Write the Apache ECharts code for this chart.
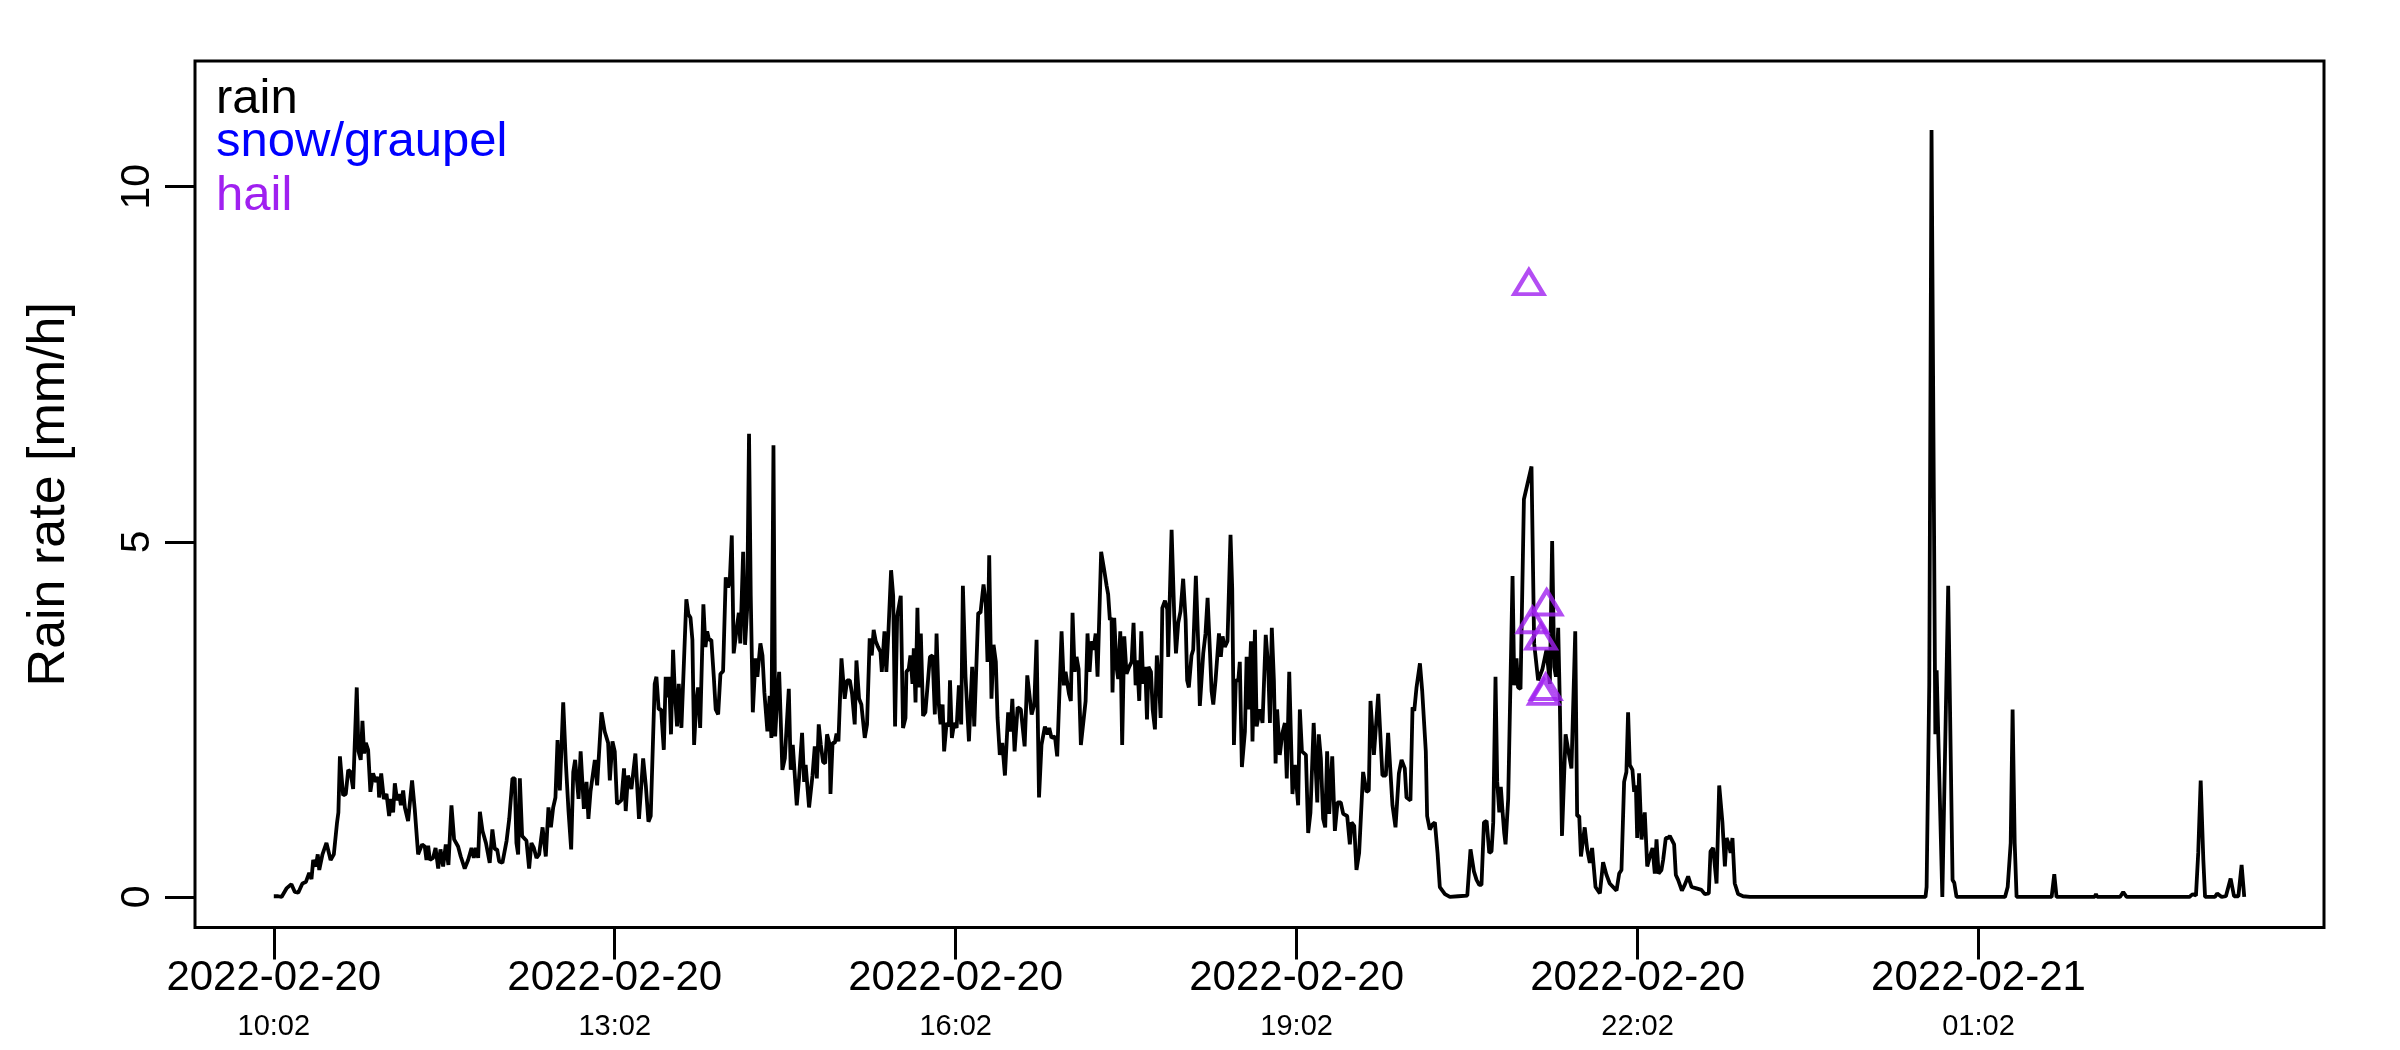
<!DOCTYPE html>
<html>
<head>
<meta charset="utf-8">
<script src="https://cdn.jsdelivr.net/npm/echarts@6/dist/echarts.min.js"></script>
<style>
html,body{margin:0;padding:0;background:#fff;}
#chart{width:2400px;height:1050px;}
</style>
</head>
<body>
<div id="chart"></div>
<script>
// minutes after 2022-02-20 10:02
const rainMinutes = [
0,2.3,4.1,6.7,9.3,11.1,12.9,15.1,16.9,18.7,
19.9,20.8,22.2,23.2,24,25.7,27.8,30,31.7,33.4,
34.1,34.9,36.6,38,39.3,40.5,41.9,43.8,44.7,45.9,
46.8,47.7,48.6,49.8,51,52.4,53.9,55.1,55.6,56.7,
58.1,59.5,60.9,61.8,63,63.9,65.1,66.2,67.1,68.3,
69.2,70.9,73,74.4,76.2,78.3,79.7,80.6,81.5,82.4,
84.1,85.4,86.8,88,89.4,90.8,92.2,93.8,95.2,97.3,
98.7,100.8,102.6,104.4,105.6,106.7,107.9,108.8,110.2,112,
114,115.4,116.7,117.9,119,120.7,122.9,124.3,126,127.2,
128.1,129,129.9,131.1,133.4,134.8,136,137.3,138.7,140.1,
141.9,143.6,145,146.3,147.5,148.7,149.8,151,152.8,154.2,
155.6,157,158.1,159.1,160.9,162,163.7,165.1,166.1,167.2,
169.5,170.7,173,174.7,176.5,177.4,178.8,180,181.2,183.5,
184.9,185.8,187,188.8,190.9,192.8,195,196.4,197.8,199,
201.1,202,203.2,204.5,205.9,206.9,207.8,208.7,209.7,210.8,
211.7,212.9,213.8,215.2,217.8,218.9,220,221,221.9,223.1,
224,225.1,226.8,227.9,228.8,229.8,231,232.3,233.3,234.6,
235.8,237.2,238.6,239.8,240.7,241.8,242.8,244.2,245.5,246.3,
247.8,248.8,249.9,250.9,251.8,252.9,254.3,255.3,256.9,258,
259,260.6,261.8,262.7,263.8,264.7,265.7,266.8,268.5,269.8,
270.8,271.9,272.9,274,276.1,277.3,278.9,280,280.8,282.6,
284.4,285.6,286.7,287.7,288.8,290,291.1,292.1,293.5,293.9,
295,296.2,297.1,298.1,299.7,301.4,302.7,304.1,305.3,306.7,
307.6,309,310.2,312,313.2,314.6,315.7,316.7,317.8,319,
320.3,321,322.4,323.4,324.5,325.9,327,328,329.1,331,
332.2,333.5,334,335.2,336.1,337.2,337.9,338.8,339.8,340.7,
341.6,342.8,344,346.4,347.8,349,349.9,351.1,352,353.1,
353.9,355.2,356.4,357,358,359.2,360.5,361.7,362.9,363.8,
365.2,367,368.7,369.8,371.9,373.1,374.7,375.9,376.8,377.7,
378.9,380,381.2,382.1,383.3,384.6,386,387.7,389,389.9,
391.1,392.7,394.4,396.4,397.8,400.1,401.5,402.7,404,405.3,
407.1,408.5,409.4,410.6,412.4,413.6,415.9,417.1,418,419.8,
420.8,421.7,422.8,423.8,424.9,426.1,428.6,429.6,430.7,431.7,
432.8,433.9,434.9,436.8,438.3,439.7,440.5,441.4,442.3,442.8,
443.7,444.9,445.8,446.9,447.9,449,450.2,451.6,452.9,453.9,
455,455.8,456.9,458,459,460.1,461,461.8,463.1,464,
465.2,466.2,467.3,468.2,469.1,470.5,471.7,472.2,474,475.4,
476.3,477.5,478.7,480.1,481.4,482.2,483.1,484.5,485.4,486.8,
488.1,488.9,490.7,491.9,493,494.2,495.1,496,497.2,498.1,
499,500,500.9,502.1,503.5,505.1,506,506.9,507.9,509.2,
510,511.1,512.7,513.6,514.6,515.9,516.7,518,518.9,520.6,
522,523.7,525,525.9,526.9,528,528.9,529.7,531.1,532.5,
533.8,534.8,536.1,537,537.8,539.1,540.8,541.7,542.8,544.9,
546.1,547.3,549,550.9,551.7,552.8,554,555.1,556.1,557.2,
558.8,560.2,561.6,563.3,564.6,566.7,568.1,569,570.4,571.6,
573,573.9,575.1,576.9,578.1,579,580.8,582.2,583.1,583.9,
585.3,587.1,588.3,589.2,590.6,592.2,594,595.4,597.1,598,
600.1,601.2,602.1,603.3,605.1,606.3,608.2,608.9,610.3,611.7,
613,614.4,615.6,618.3,620.9,625.3,630.1,631.8,633.6,635,
636.4,637.6,638.9,640.3,641.7,642.9,643.8,645,645.9,647,
647.8,648.7,649.6,650.3,651.7,654,654.9,656.1,656.9,658.2,
660,664,665.4,667.5,669.8,671.9,673.7,674.9,676,676.9,
678.1,679,680.1,682,683.7,685.1,687.1,688.1,689.2,690.1,
692.1,693.4,694.8,696,697.8,700.1,701.8,703.6,705.3,708.9,
710.3,711.5,712.9,714.1,715,715.9,717.3,718.2,719.1,719.8,
720.8,722.1,723.8,725.1,726.5,727.9,729.1,730,731.1,732.6,
733.5,734.9,736.1,737,739.3,740.2,741.4,742.3,743.4,744.9,
746.7,748.5,751.1,753.7,755.5,757.6,758.5,759.9,761.7,763.1,
764.8,766.1,767,768.2,769.1,770.1,771.3,773.1,775.7,779.3,
812,812.7,813.5,872,872.6,874,875.2,877.2,877.9,880.9,
884,886.3,887.2,888.4,914,915.4,917,918,919.1,920.1,
938.6,940,941.2,961.3,962,962.7,974.7,976.4,978.2,1011.3,
1013.1,1014.8,1016,1017.3,1018.7,1019.6,1024.8,1026,1028.4,1030.6,
1033.1,1034.9,1037.2,1038.9,1040.3
];
const rainRate = [
0.01,0.01,0,0.12,0.18,0.07,0.06,0.19,0.21,0.34,
0.25,0.52,0.43,0.6,0.38,0.6,0.76,0.52,0.6,1.05,
1.19,1.98,1.43,1.45,1.79,1.76,1.52,2.95,2.05,1.93,
2.48,2.02,2.17,2.07,1.48,1.74,1.62,1.69,1.4,1.74,
1.38,1.45,1.14,1.38,1.19,1.6,1.36,1.45,1.29,1.5,
1.26,1.07,1.64,1.24,0.6,0.74,0.71,0.52,0.72,0.52,
0.55,0.69,0.4,0.67,0.43,0.74,0.45,1.29,0.81,0.71,
0.57,0.4,0.52,0.69,0.55,0.69,0.55,1.2,0.93,0.76,
0.48,0.95,0.67,0.67,0.5,0.48,0.79,1.1,1.67,1.67,
0.76,0.6,1.67,0.86,0.79,0.4,0.76,0.69,0.55,0.6,
0.98,0.57,1.26,0.98,1.26,1.4,2.21,1.5,2.74,1.88,
1.21,0.67,1.76,1.93,1.38,2.05,1.24,1.62,1.1,1.48,
1.93,1.57,2.6,2.33,2.17,1.64,2.19,2.05,1.31,1.36,
1.81,1.21,1.71,1.52,2.02,1.1,1.95,1.57,1.06,1.14,
3.0,3.1,2.64,2.64,2.07,3.1,2.81,3.1,2.29,3.48,
2.9,2.4,3.0,2.38,4.19,3.98,3.93,3.62,2.14,2.76,
2.95,2.38,4.12,3.52,3.74,3.62,3.62,3.1,2.64,2.57,
3.14,3.18,4.5,4.36,4.43,5.09,3.43,3.74,4.0,3.57,
4.86,3.55,4.05,6.52,4.24,2.6,3.36,3.1,3.57,3.4,
2.88,2.33,2.83,2.24,6.36,2.26,2.76,3.17,1.79,1.95,
1.93,2.93,1.79,2.14,1.29,1.67,2.31,1.62,1.86,1.26,
1.71,2.12,1.67,2.43,2.14,1.9,1.88,2.29,2.14,1.45,
2.17,2.17,2.3,2.19,3.36,2.79,3.05,3.05,2.86,2.43,
3.33,2.79,2.71,2.24,2.43,3.64,3.4,3.76,3.6,3.52,
3.45,3.17,3.74,3.17,3.74,4.6,4.24,2.4,3.95,4.24,
2.38,2.52,3.17,3.21,3.4,3.0,3.5,2.74,4.07,2.95,
3.71,2.55,2.6,3.38,3.4,2.57,3.71,2.71,2.43,2.71,
2.05,2.45,2.4,3.05,2.24,2.45,2.38,2.98,2.43,4.38,
3.1,2.19,3.24,2.4,4.0,4.0,4.4,4.14,3.31,4.81,
2.79,3.55,3.31,2.52,2.0,2.17,1.71,2.6,2.33,2.79,
2.05,2.67,2.64,2.12,3.12,2.57,2.71,3.62,1.4,2.14,
2.4,2.29,2.38,2.24,2.26,1.98,3.74,2.98,3.17,2.86,
2.76,4.0,3.17,3.38,3.21,2.14,2.76,3.71,3.17,3.6,
3.48,3.71,3.1,4.86,4.62,4.38,4.26,3.9,3.93,2.88,
3.93,3.24,3.07,3.74,2.14,3.67,3.14,3.24,3.31,3.86,
2.98,3.33,2.76,3.74,3.0,3.24,2.5,3.24,3.17,2.64,
2.36,3.4,3.05,2.52,4.07,4.17,4.05,3.38,5.17,3.95,
3.43,3.86,4.02,4.48,3.9,3.05,2.95,3.4,3.48,4.52,
3.52,2.69,3.43,3.71,4.21,3.48,2.9,2.71,3.05,3.07,
3.71,3.38,3.67,3.52,3.6,5.1,4.33,2.14,3.05,3.05,
3.31,1.83,2.33,3.38,2.64,3.6,2.19,3.76,2.4,2.64,
2.45,3.69,3.24,2.45,3.79,3.05,1.88,2.64,2.0,2.31,
2.45,1.67,3.17,3.19,1.45,1.86,1.29,2.64,2.05,2.0,
0.9,1.19,2.45,1.33,2.29,1.95,1.1,0.98,2.05,1.17,
1.98,0.93,1.33,1.33,1.17,1.14,0.74,1.05,1.0,0.38,
0.62,0.62,1.76,1.48,1.5,2.76,2.0,2.52,2.86,2.86,
1.71,1.71,2.31,2.31,1.29,0.98,1.74,1.93,1.81,1.4,
1.36,2.67,2.62,2.95,3.29,2.9,2.05,1.14,0.95,1.02,
1.05,0.62,0.14,0.04,0,0.01,0.02,0.67,0.36,0.24,
0.17,0.17,1.05,1.07,0.62,0.64,1.05,3.1,1.62,1.19,
1.55,1.21,0.9,0.74,1.38,4.52,2.98,3.36,2.95,2.93,
5.6,6.06,3.57,3.05,3.21,3.48,3.0,5.01,3.24,3.1,
3.79,2.67,0.86,2.29,2.02,1.81,3.74,1.14,1.14,0.57,
0.98,0.67,0.48,0.69,0.14,0.05,0.49,0.31,0.19,0.09,
0.33,0.38,1.62,1.76,2.6,1.86,1.79,1.48,1.57,0.83,
1.74,0.81,1.19,0.43,0.57,0.69,0.33,0.81,0.33,0.38,
0.52,0.83,0.83,0.86,0.74,0.31,0.24,0.26,0.09,0.17,
0.29,0.14,0.12,0.1,0.04,0.05,0.64,0.69,0.19,1.57,
1.05,0.43,0.83,0.74,0.62,0.83,0.19,0.04,0.01,0,
0,0.02,0,0,0.14,3.0,10.8,2.29,3.19,0,
4.38,0.24,0.2,0,0,0.14,0.76,2.64,0.76,0,
0,0.32,0,0,0.04,0,0,0.07,0,0,
0.04,0.02,0.62,1.64,0.52,0,0,0.05,0,0.01,
0.26,0.01,0.01,0.45,0
];
const hailMinutes = [662.6, 664.5, 669.0, 670.5, 671.5, 672.0];
const hailRate = [8.6, 3.84, 3.61, 2.83, 2.9, 4.09];

const tickMinutes = [0, 180, 360, 540, 720, 900];
const tickDates = ['2022-02-20','2022-02-20','2022-02-20','2022-02-20','2022-02-20','2022-02-21'];
const tickTimes = ['10:02','13:02','16:02','19:02','22:02','01:02'];
const yTicks = [0, 5, 10];
const legendLabels = ['rain', 'snow/graupel', 'hail'];
const legendColors = ['#000000', '#0000FF', '#A020F0'];

const FONT = "'Liberation Sans', Arial, Helvetica, sans-serif";
const rainData = rainMinutes.map((m, i) => [m, rainRate[i]]);
const hailData = hailMinutes.map((m, i) => [m, hailRate[i]]);

const chart = echarts.init(document.getElementById('chart'), null, {renderer: 'canvas'});
const legendMiddles = [99, 142, 196];
chart.setOption({
  animation: false,
  backgroundColor: '#ffffff',
  grid: {left: 195, right: 76, top: 61, bottom: 122.5, show: true, borderColor: '#000', borderWidth: 3, backgroundColor: 'rgba(0,0,0,0)'},
  xAxis: {
    type: 'value', min: -41.6, max: 1082.4,
    splitLine: {show: false},
    axisLine: {show: false, onZero: false},
    axisTick: {show: true, inside: false, length: 32, lineStyle: {color: '#000', width: 3}, customValues: tickMinutes},
    axisLabel: {
      customValues: tickMinutes, margin: 27, color: '#000',
      formatter: function (v) {
        const i = tickMinutes.indexOf(v);
        return '{d|' + tickDates[i] + '}\n{t|' + tickTimes[i] + '}';
      },
      rich: {
        d: {fontSize: 42, lineHeight: 48, fontFamily: FONT, color: '#000'},
        t: {fontSize: 29, lineHeight: 49, fontFamily: FONT, color: '#000'}
      }
    }
  },
  yAxis: {
    type: 'value', min: -0.43, max: 11.77,
    splitLine: {show: false},
    axisLine: {show: false, onZero: false},
    axisTick: {show: true, inside: false, length: 30, lineStyle: {color: '#000', width: 3}, customValues: yTicks},
    axisLabel: {customValues: yTicks, rotate: 90, margin: 37, fontSize: 41, fontFamily: FONT, color: '#000'},
    name: 'Rain rate [mm/h]', nameLocation: 'middle', nameGap: 119,
    nameTextStyle: {fontSize: 52, fontFamily: FONT, color: '#000'}
  },
  series: [
    {type: 'line', name: 'rain', data: rainData, showSymbol: false, symbol: 'none', sampling: false,
     lineStyle: {color: '#000', width: 3.8}, z: 2},
    {type: 'scatter', name: 'hail', data: hailData, symbol: 'triangle', symbolSize: [29, 24], symbolOffset: [0, -4],
     itemStyle: {color: 'rgba(0,0,0,0)', borderColor: '#A020F0', borderWidth: 4.2}, z: 3}
  ],
  graphic: legendLabels.map((t, i) => ({
    type: 'text', x: 216, y: legendMiddles[i], z: 10,
    style: {text: t, fill: legendColors[i], font: '49px ' + FONT, verticalAlign: 'middle'}
  }))
});
</script>
</body>
</html>
